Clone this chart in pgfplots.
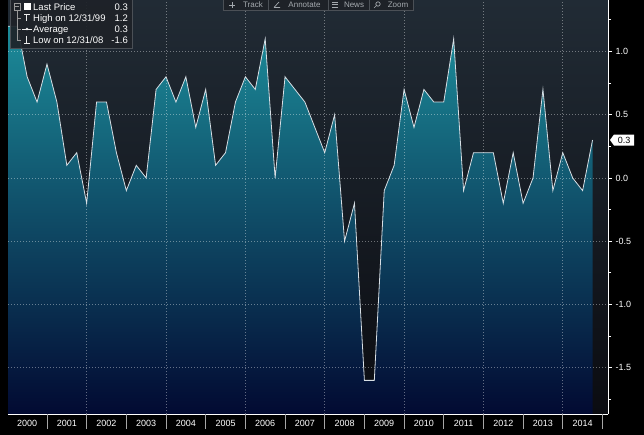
\documentclass[border=0pt]{standalone}
\usepackage{pgfplots}
\pgfplotsset{compat=1.18}
\usepackage{pgfplotstable}
\usepackage{fontspec}
\setmainfont{Liberation Sans}
\definecolor{bgtop}{RGB}{33,43,53}
\definecolor{bgmid}{RGB}{20,24,30}
\definecolor{bgbot}{RGB}{11,12,17}
\definecolor{areatop}{RGB}{28,140,154}
\definecolor{areamid}{RGB}{10,82,110}
\definecolor{areabot}{RGB}{2,10,50}
\definecolor{linecol}{RGB}{215,222,228}
\definecolor{boxfill}{RGB}{30,34,40}
\definecolor{boxline}{RGB}{75,80,86}
\definecolor{uitext}{RGB}{165,170,175}

\pgfplotstableread{
q v
0 1.2
1 1.2
2 0.8
3 0.6
4 0.9
5 0.6
6 0.1
7 0.2
8 -0.2
9 0.6
10 0.6
11 0.2
12 -0.1
13 0.1
14 0.0
15 0.7
16 0.8
17 0.6
18 0.8
19 0.4
20 0.7
21 0.1
22 0.2
23 0.6
24 0.8
25 0.7
26 1.1
27 0.0
28 0.8
29 0.7
30 0.6
31 0.4
32 0.2
33 0.5
34 -0.5
35 -0.2
36 -1.6
37 -1.6
38 -0.1
39 0.1
40 0.7
41 0.4
42 0.7
43 0.6
44 0.6
45 1.1
46 -0.1
47 0.2
48 0.2
49 0.2
50 -0.2
51 0.2
52 -0.2
53 0.0
54 0.7
55 -0.1
56 0.2
57 0.0
58 -0.1
59 0.3
}\cpi

\pgfplotstableread{
q v
0 -1.866
0 1.2
1 1.2
2 0.8
3 0.6
4 0.9
5 0.6
6 0.1
7 0.2
8 -0.2
9 0.6
10 0.6
11 0.2
12 -0.1
13 0.1
14 0.0
15 0.7
16 0.8
17 0.6
18 0.8
19 0.4
20 0.7
21 0.1
22 0.2
23 0.6
24 0.8
25 0.7
26 1.1
27 0.0
28 0.8
29 0.7
30 0.6
31 0.4
32 0.2
33 0.5
34 -0.5
35 -0.2
36 -1.6
37 -1.6
38 -0.1
39 0.1
40 0.7
41 0.4
42 0.7
43 0.6
44 0.6
45 1.1
46 -0.1
47 0.2
48 0.2
49 0.2
50 -0.2
51 0.2
52 -0.2
53 0.0
54 0.7
55 -0.1
56 0.2
57 0.0
58 -0.1
59 0.3
59 -1.866
}\cpiarea

\begin{document}
\begin{tikzpicture}[x=1pt,y=1pt]
\useasboundingbox (0,0) rectangle (644,435);
\fill[black] (0,0) rectangle (644,435);

\begin{axis}[
  at={(8pt,21pt)}, anchor=south west,
  scale only axis, width=600pt, height=414pt,
  xmin=0.07, xmax=60.56, ymin=-1.866, ymax=1.407,
  axis on top,
  axis background/.style={shade, top color=bgtop, middle color=bgmid, bottom color=bgbot},
  axis x line*=bottom, axis y line*=right,
  axis line style={draw=white, line width=0.8pt},
  tick align=outside,
  major tick length=4pt, minor tick length=3pt,
  xtick={2,6,10,14,18,22,26,30,34,38,42,46,50,54,58},
  xticklabels={2000,2001,2002,2003,2004,2005,2006,2007,2008,2009,2010,2011,2012,2013,2014},
  xtick style={draw=none},
  xticklabel style={text=white, font=\fontsize{9}{10}\selectfont, yshift=1pt},
  ytick={-1.5,-1,-0.5,0,0.5,1},
  minor ytick={-1.75,-1.25,-0.75,-0.25,0.25,0.75,1.25},
  ytick style={white, line width=0.7pt},
  yticklabel style={text=white, font=\fontsize{9}{10}\selectfont,
    /pgf/number format/fixed, /pgf/number format/fixed zerofill,
    /pgf/number format/precision=1, /pgf/number format/assume math mode=true},
  ymajorgrids,
  major grid style={white, opacity=0.38, line width=0.6pt, dash pattern=on 1pt off 2pt},
]
\addplot[draw=none, shade, top color=areatop, middle color=areamid, bottom color=areabot] table[x=q, y=v] {\cpiarea};
\addplot[linecol, line width=0.8pt] table[x=q, y=v] {\cpi};
\coordinate (tagpt) at (axis cs:60.56,0.3);
\end{axis}

% vertical dotted grid every two years
\begin{axis}[
  at={(8pt,21pt)}, anchor=south west,
  scale only axis, width=600pt, height=414pt,
  xmin=0.07, xmax=60.56, ymin=-1.866, ymax=1.407,
  axis line style={draw=none},
  xtick={8,16,24,32,40,48,56}, xticklabels={},
  ytick={5}, yticklabels={},
  xmajorgrids=true,
  major tick length=0pt,
  x grid style={white, opacity=0.38, line width=0.6pt, dash pattern=on 1pt off 2pt},
]
\addplot[draw=none] coordinates {(1,0)};
\end{axis}

% year separators below the axis
\begin{axis}[
  at={(8pt,21pt)}, anchor=south west,
  scale only axis, width=600pt, height=414pt,
  xmin=0.07, xmax=60.56, ymin=-1.866, ymax=1.407,
  axis x line*=bottom, hide y axis,
  axis line style={draw=none},
  tick align=outside, major tick length=15pt,
  xtick={4,8,12,16,20,24,28,32,36,40,44,48,52,56,60},
  xticklabels={},
  xtick style={color=gray!70!white, line width=0.7pt},
]
\addplot[draw=none] coordinates {(1,0)};
\end{axis}

% last value tag
\fill[white] ([xshift=2pt]tagpt) -- ++(4pt,5.5pt) -- ++(20pt,0) -- ++(0,-11pt) -- ++(-20pt,0) -- cycle;
\node[text=black, font=\fontsize{9}{10}\selectfont] at ([xshift=16pt]tagpt) {0.3};

% legend box
\fill[boxfill, opacity=0.92] (10,387) rectangle (132,437);
\draw[boxline, line width=0.6pt] (10,387) rectangle (132,437);
\draw[gray!80, line width=0.6pt] (17,425) -- (17,394.7);
\draw[gray!80, line width=0.6pt] (17,417)--(21,417) (17,405.7)--(21,405.7) (17,394.7)--(21,394.7);
\draw[gray!80, fill=boxfill, line width=0.6pt] (13.8,425) rectangle (20.3,431.5);
\draw[gray!80, line width=0.6pt] (15.3,428.25)--(18.8,428.25);
\fill[white] (24,425) rectangle (31,432);
\draw[white!85!gray, line width=0.8pt] (24,421)--(29.5,421) (26.75,421)--(26.75,413.5);
\draw[white!85!gray, line width=0.8pt] (22,406)--(32,406);
\fill[white!85!gray] (27,406) circle (1.3);
\draw[white!85!gray, line width=0.8pt] (26.75,399)--(26.75,391.5) (24,391.5)--(29.5,391.5);
\begin{scope}[every node/.style={text=white, font=\fontsize{9.5}{11}\selectfont, inner sep=0pt}]
\node[anchor=base west] at (33,424.8) {Last Price};
\node[anchor=base east] at (128,424.8) {0.3};
\node[anchor=base west] at (33,413.5) {High on 12/31/99};
\node[anchor=base east] at (128,413.5) {1.2};
\node[anchor=base west] at (33,402.2) {Average};
\node[anchor=base east] at (128,402.2) {0.3};
\node[anchor=base west] at (33,391.2) {Low on 12/31/08};
\node[anchor=base east] at (128,391.2) {-1.6};
\end{scope}

% toolbar at the top edge
\begin{scope}
\clip (0,0) rectangle (644,435);
\fill[boxfill] (223,424.5) rectangle (413,445);
\draw[boxline, line width=0.6pt] (223,424.5) rectangle (413,445);
\draw[boxline, line width=0.6pt] (268,424.5)--(268,445) (328,424.5)--(328,445) (369,424.5)--(369,445);
\begin{scope}[every node/.style={text=uitext, font=\fontsize{8}{9}\selectfont, inner sep=0pt, anchor=base}]
\node at (253,427.5) {Track};
\node at (304.5,427.5) {Annotate};
\node at (354,427.5) {News};
\node at (398,427.5) {Zoom};
\end{scope}
\draw[uitext, line width=0.7pt] (229,430)--(235,430) (232,427)--(232,433);
\draw[uitext, line width=0.7pt] (274,427.5)--(280,427.5) (274,427.5)--(279,433);
\draw[uitext, line width=0.7pt] (332,428)--(338,428) (332,430.5)--(338,430.5) (332,433)--(338,433);
\draw[uitext, line width=0.7pt] (378,431) circle (2.2) (376.5,429.5)--(374,427);
\end{scope}
\end{tikzpicture}
\end{document}
